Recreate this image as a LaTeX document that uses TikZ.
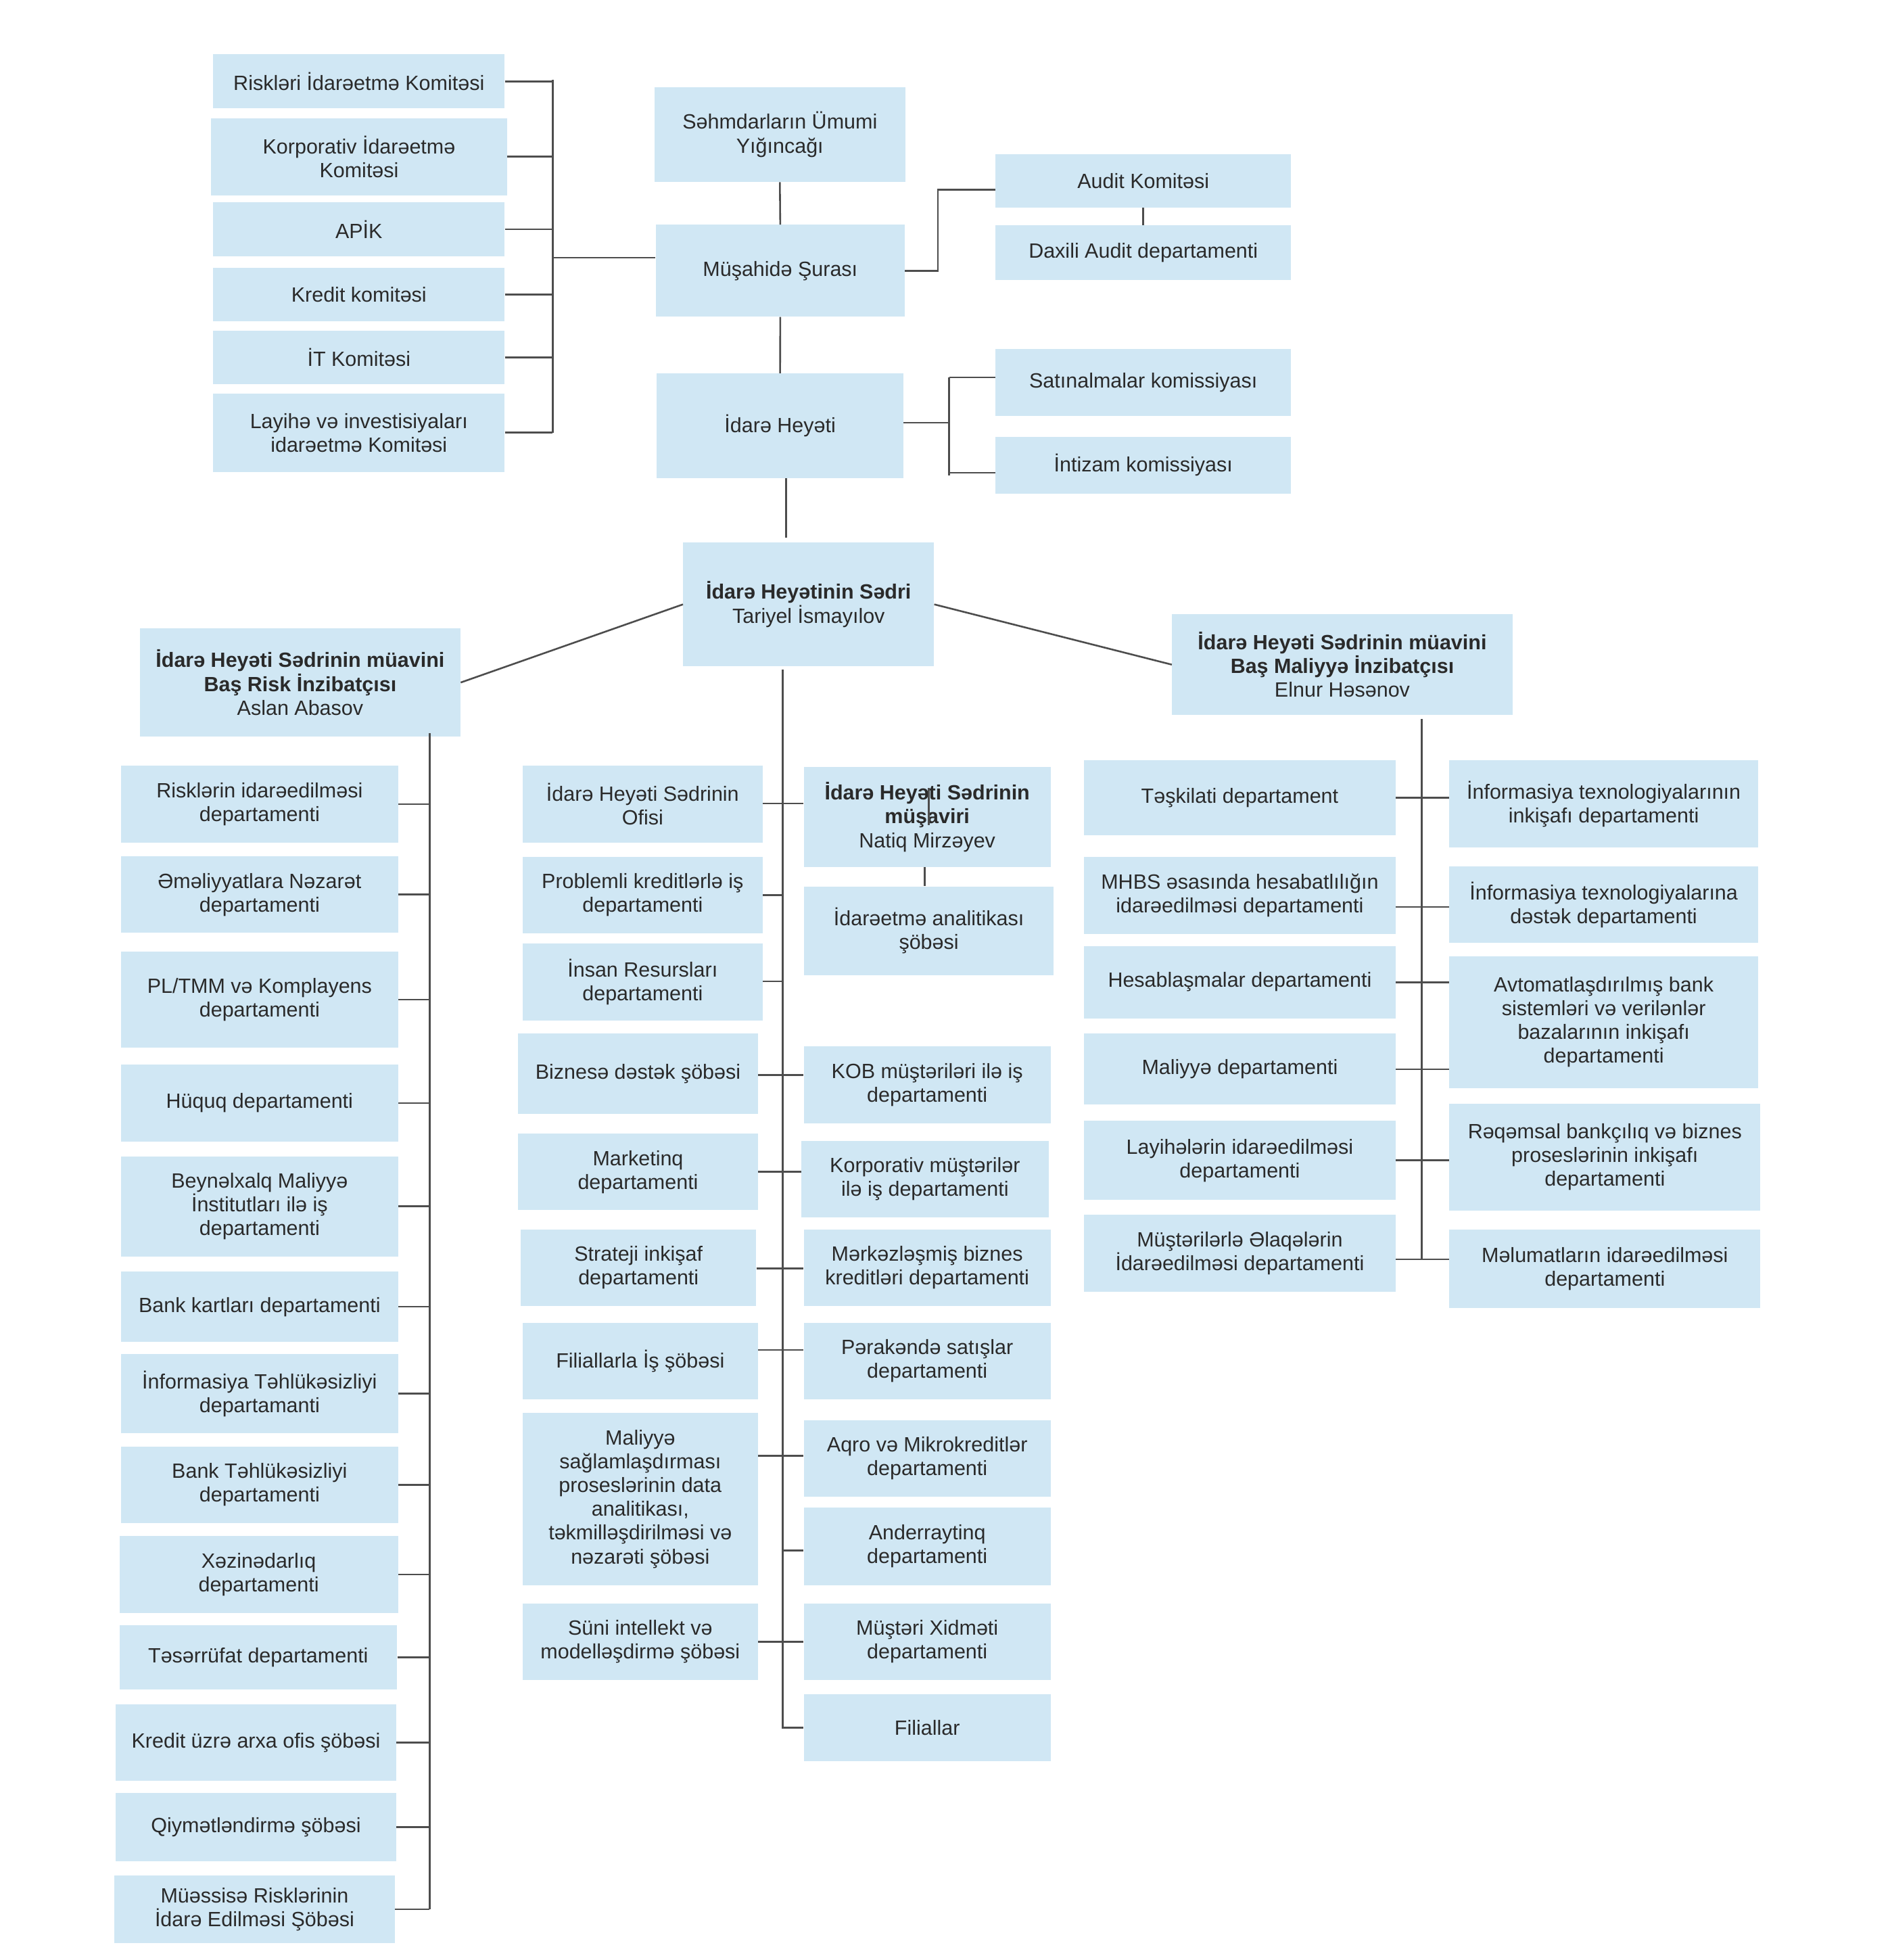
\documentclass[tikz,border=0pt]{standalone}
\usepackage{fontspec}
\setmainfont{Liberation Sans}
\usetikzlibrary{calc}
\definecolor{boxblue}{HTML}{D0E7F4}
\definecolor{linec}{HTML}{4D4D4D}
\definecolor{txtc}{HTML}{2A2A2A}
\newcommand\orgfs{\fontsize{16.5}{19}\selectfont}
\tikzset{
  box/.style={fill=boxblue, inner sep=0pt, align=center, text=txtc, font=\orgfs},
  sz/.style 2 args={minimum width=#1pt, minimum height=#2pt},
  ln/.style={draw=linec, line width=1.4pt},
}
\begin{document}
\begin{tikzpicture}[x=1pt,y=-1pt]
\useasboundingbox (0,0) rectangle (1512,1568);
\fill[white] (0,0) rectangle (1512,1568);

% ---------- top committees ----------
\node[box, sz={233.1}{43.3}] (rik) at (287.2,65.1) {Riskləri İdarəetmə Komitəsi};
\node[box, sz={236.9}{61.7}] (kor) at (287.3,125.3) {Korporativ İdarəetmə\\Komitəsi};
\node[box, sz={233.1}{43.4}] (apik) at (287.2,183.4) {APİK};
\node[box, sz={233.1}{43.0}] (kred) at (287.2,235.7) {Kredit komitəsi};
\node[box, sz={233.1}{42.8}] (itk) at (287.2,286.1) {İT Komitəsi};
\node[box, sz={233.1}{62.6}] (lay) at (287.2,346.1) {Layihə və investisiyaları\\idarəetmə Komitəsi};

\node[box, sz={200.7}{76.0}] (seh) at (624.0,107.6) {Səhmdarların Ümumi\\Yığıncağı};
\node[box, sz={199.4}{73.5}] (mus) at (624.3,216.6) {Müşahidə Şurası};
\node[box, sz={197.3}{83.7}] (ih) at (624.2,340.7) {İdarə Heyəti};

\node[box, sz={236.4}{42.8}] (aud) at (914.8,144.7) {Audit Komitəsi};
\node[box, sz={236.4}{43.9}] (dax) at (914.8,202.2) {Daxili Audit departamenti};
\node[box, sz={236.4}{53.8}] (sat) at (914.8,306.0) {Satınalmalar komissiyası};
\node[box, sz={236.4}{45.8}] (int) at (914.8,372.2) {İntizam komissiyası};

% ---------- chair and deputies ----------
\node[box, sz={200.7}{98.9}] (chair) at (647.0,483.5) {{\bfseries İdarə Heyətinin Sədri}\\Tariyel İsmayılov};
\node[box, sz={256.5}{86.6}] (dL) at (240.2,546.0) {{\bfseries İdarə Heyəti Sədrinin müavini}\\{\bfseries Baş Risk İnzibatçısı}\\Aslan Abasov};
\node[box, sz={272.4}{80.6}] (dR) at (1074.0,531.7) {{\bfseries İdarə Heyəti Sədrinin müavini}\\{\bfseries Baş Maliyyə İnzibatçısı}\\Elnur Həsənov};

% ---------- left column ----------
\node[box, sz={221.7}{62.1}] (l1) at (207.7,643.3) {Risklərin idarəedilməsi\\departamenti};
\node[box, sz={221.7}{61.3}] (l2) at (207.7,715.7) {Əməliyyatlara Nəzarət\\departamenti};
\node[box, sz={221.7}{76.8}] (l3) at (207.7,799.6) {PL/TMM və Komplayens\\departamenti};
\node[box, sz={221.7}{61.3}] (l4) at (207.7,882.5) {Hüquq departamenti};
\node[box, sz={221.7}{80.1}] (l5) at (207.7,965.0) {Beynəlxalq Maliyyə\\İnstitutları ilə iş\\departamenti};
\node[box, sz={221.7}{55.9}] (l6) at (207.7,1045.4) {Bank kartları departamenti};
\node[box, sz={221.7}{63.7}] (l7) at (207.7,1114.9) {İnformasiya Təhlükəsizliyi\\departamanti};
\node[box, sz={221.7}{61.0}] (l8) at (207.7,1187.8) {Bank Təhlükəsizliyi\\departamenti};
\node[box, sz={223.0}{61.3}] (l9) at (207.0,1259.6) {Xəzinədarlıq\\departamenti};
\node[box, sz={222.2}{51.7}] (l10) at (206.6,1325.8) {Təsərrüfat departamenti};
\node[box, sz={224.1}{60.9}] (l11) at (204.8,1394.0) {Kredit üzrə arxa ofis şöbəsi};
\node[box, sz={224.1}{55.0}] (l12) at (204.8,1461.7) {Qiymətləndirmə şöbəsi};
\node[box, sz={224.1}{54.4}] (l13) at (203.7,1527.5) {Müəssisə Risklərinin\\İdarə Edilməsi Şöbəsi};

% ---------- middle left ----------
\node[box, sz={191.9}{62.1}] (m1) at (514.2,643.3) {İdarə Heyəti Sədrinin\\Ofisi};
\node[box, sz={191.9}{61.6}] (m2) at (514.2,716.1) {Problemli kreditlərlə iş\\departamenti};
\node[box, sz={191.9}{61.8}] (m3) at (514.2,785.5) {İnsan Resursları\\departamenti};
\node[box, sz={191.9}{64.0}] (m4) at (510.5,858.9) {Biznesə dəstək şöbəsi};
\node[box, sz={191.9}{61.2}] (m5) at (510.5,937.6) {Marketinq\\departamenti};
\node[box, sz={188.2}{60.9}] (m6) at (510.9,1014.2) {Strateji inkişaf\\departamenti};
\node[box, sz={188.2}{60.8}] (m7) at (512.3,1088.9) {Filiallarla İş şöbəsi};
\node[box, sz={188.2}{137.7}] (m8) at (512.3,1199.2) {Maliyyə\\sağlamlaşdırması\\proseslərinin data\\analitikası,\\təkmilləşdirilməsi və\\nəzarəti şöbəsi};
\node[box, sz={188.2}{61.3}] (m9) at (512.3,1313.4) {Süni intellekt və\\modelləşdirmə şöbəsi};

% ---------- middle right ----------
\node[box, sz={197.4}{80.0}] (r1) at (741.9,653.6) {{\bfseries İdarə Heyəti Sədrinin}\\{\bfseries müşaviri}\\Natiq Mirzəyev};
\node[box, sz={199.9}{70.9}] (r2) at (743.2,744.6) {İdarəetmə analitikası\\şöbəsi};
\node[box, sz={197.4}{61.5}] (r3) at (741.9,867.9) {KOB müştəriləri ilə iş\\departamenti};
\node[box, sz={197.7}{61.2}] (r4) at (740.1,943.1) {Korporativ müştərilər\\ilə iş departamenti};
\node[box, sz={197.4}{60.9}] (r5) at (741.9,1014.2) {Mərkəzləşmiş biznes\\kreditləri departamenti};
\node[box, sz={197.4}{60.8}] (r6) at (741.9,1088.9) {Pərakəndə satışlar\\departamenti};
\node[box, sz={197.4}{61.5}] (r7) at (741.9,1166.7) {Aqro və Mikrokreditlər\\departamenti};
\node[box, sz={197.4}{62.2}] (r8) at (741.9,1236.9) {Anderraytinq\\departamenti};
\node[box, sz={197.4}{61.3}] (r9) at (741.9,1313.4) {Müştəri Xidməti\\departamenti};
\node[box, sz={197.4}{53.8}] (r10) at (741.9,1382.2) {Filiallar};

% ---------- right columns ----------
\node[box, sz={249.4}{60.0}] (p1) at (992.0,638.4) {Təşkilati departament};
\node[box, sz={249.4}{61.4}] (p2) at (992.0,716.3) {MHBS əsasında hesabatlılığın\\idarəedilməsi departamenti};
\node[box, sz={249.4}{57.8}] (p3) at (992.0,785.7) {Hesablaşmalar departamenti};
\node[box, sz={249.4}{57.0}] (p4) at (992.0,855.0) {Maliyyə departamenti};
\node[box, sz={249.4}{63.2}] (p5) at (992.0,928.4) {Layihələrin idarəedilməsi\\departamenti};
\node[box, sz={249.4}{61.3}] (p6) at (992.0,1002.6) {Müştərilərlə Əlaqələrin\\İdarəedilməsi departamenti};

\node[box, sz={246.9}{69.8}] (q1) at (1283.2,643.3) {İnformasiya texnologiyalarının\\inkişafı departamenti};
\node[box, sz={246.9}{61.4}] (q2) at (1283.2,723.7) {İnformasiya texnologiyalarına\\dəstək departamenti};
\node[box, sz={246.9}{105.6}] (q3) at (1283.2,817.6) {Avtomatlaşdırılmış bank\\sistemləri və verilənlər\\bazalarının inkişafı\\departamenti};
\node[box, sz={248.7}{85.4}] (q4) at (1284.1,925.6) {Rəqəmsal bankçılıq və biznes\\proseslərinin inkişafı\\departamenti};
\node[box, sz={248.7}{62.8}] (q5) at (1284.1,1015.2) {Məlumatların idarəedilməsi\\departamenti};

% ---------- helper coordinates ----------
\coordinate (brx) at (442.3,0);
\coordinate (ajx) at (750.4,0);
\coordinate (ihx) at (759.5,0);
\coordinate (cx) at (629.1,0);
\coordinate (lvx) at (343.7,0);
\coordinate (mvx) at (626.2,0);
\coordinate (rvx) at (1137.6,0);

% ---------- connectors: top ----------
\foreach \n in {rik,kor,apik,kred,itk,lay}
  \draw[ln] (\n.east) -- (\n.east -| brx);
\draw[ln] (brx |- 0,63.7) -- (brx |- 0,346.2);
\draw[ln] (brx |- 0,206.2) -- (mus.west |- 0,206.2);
\draw[ln] (seh.south) -- (mus.north);
\draw[ln] (mus.south) -- (ih.north);
\draw[ln] (mus.east) -- (ajx |- mus.east) -- (ajx |- 0,151.7) -- (aud.west |- 0,151.7);
\draw[ln] (aud.south) -- (dax.north);
\draw[ln] (ih.east |- 0,338.1) -- (ihx |- 0,338.1);
\draw[ln] (ihx |- 0,302.0) -- (ihx |- 0,380.6);
\draw[ln] (ihx |- 0,302.0) -- (sat.west |- 0,302.0);
\draw[ln] (ihx |- 0,378.1) -- (int.west |- 0,378.1);
\draw[ln] (ih.south -| cx) -- (cx |- 0,430.4);
\draw[ln] (chair.west) -- (dL.east);
\draw[ln] (chair.east) -- (dR.west);

% ---------- left column connectors ----------
\draw[ln] (lvx |- 0,586.4) -- (lvx |- l13.east);
\foreach \n in {l1,l2,l3,l4,l5,l6,l7,l8,l9,l10,l11,l12,l13}
  \draw[ln] (\n.east) -- (\n.east -| lvx);

% ---------- middle connectors ----------
\draw[ln] (mvx |- 0,535.6) -- (mvx |- r10.west) -- (r10.west);
\draw[ln] (m1.east |- 0,642.8) -- (r1.west |- 0,642.8);
\draw[ln] (m2.east |- 0,716.0) -- (mvx |- 0,716.0);
\draw[ln] (m3.east |- 0,785.0) -- (mvx |- 0,785.0);
\draw[ln] (m4.east |- 0,860.0) -- (r3.west |- 0,860.0);
\draw[ln] (m5.east |- 0,937.3) -- (r4.west |- 0,937.3);
\draw[ln] (m6.east |- 0,1014.6) -- (r5.west |- 0,1014.6);
\draw[ln] (m7.east |- 0,1080.0) -- (r6.west |- 0,1080.0);
\draw[ln] (m8.east |- 0,1164.7) -- (r7.west |- 0,1164.7);
\draw[ln] (mvx |- 0,1240.5) -- (r8.west |- 0,1240.5);
\draw[ln] (m9.east |- 0,1313.3) -- (r9.west |- 0,1313.3);
\draw[ln] (r1.south -| 739.9,0) -- (r2.north -| 739.9,0);
\draw[ln] ($(r1.center)+(1.1,-23)$) -- ($(r1.center)+(1.1,6.4)$);

% ---------- right connectors ----------
\draw[ln] (rvx |- 0,575.2) -- (rvx |- 0,1007.5);
\draw[ln] (p1.east |- 0,638.1) -- (q1.west |- 0,638.1);
\draw[ln] (p2.east |- 0,725.6) -- (q2.west |- 0,725.6);
\draw[ln] (p3.east |- 0,785.9) -- (q3.west |- 0,785.9);
\draw[ln] (p4.east |- 0,855.5) -- (q3.west |- 0,855.5);
\draw[ln] (p5.east |- 0,928.3) -- (q4.west |- 0,928.3);
\draw[ln] (p6.east |- 0,1007.5) -- (q5.west |- 0,1007.5);
\end{tikzpicture}
\end{document}
